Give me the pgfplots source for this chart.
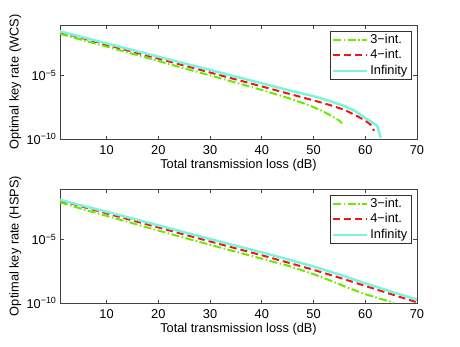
\documentclass[border=0pt]{standalone}
\usepackage{fontspec}
\setmainfont{Liberation Sans}
\usepackage{pgfplots}
\pgfplotsset{compat=1.18}

\definecolor{cthree}{RGB}{105,235,0}
\definecolor{cfour}{RGB}{245,20,20}
\definecolor{cinf}{RGB}{120,245,220}
\newcommand{\fs}{\fontsize{12.8}{15}\selectfont}

\pgfplotsset{
  kr/.style={
    scale only axis, width=357pt, height=114pt,
    xmin=1, xmax=70,
    xtick={10,20,...,70},
    yminorticks=false, xminorticks=false,
    tick align=inside, major tick length=3.5pt,
    axis line style={draw=black!75, line width=0.6pt},
    tick style={black!75, line width=0.6pt},
    tick label style={font=\fs},
    xticklabel style={yshift=-3pt},
    label style={font=\fs},
    xlabel={Total transmission loss (dB)},
    xlabel style={at={(axis description cs:0.5,-0.23)}, anchor=center},
    ylabel style={at={(axis description cs:-0.125,0.5)}, anchor=center},
    legend cell align=left,
    legend style={font=\fs, draw=black!80, line width=0.6pt,
      at={(axis description cs:0.985,0.95)}, anchor=north east,
      inner xsep=2pt, inner ysep=1pt,
      nodes={inner xsep=2pt, inner ysep=1.5pt, text height=9.5pt, text depth=3pt}},
  },
  three/.style={cthree, line width=2pt, dash pattern=on 8pt off 2.5pt on 1.5pt off 2.5pt},
  four/.style={cfour, line width=2pt, dash pattern=on 7pt off 4pt},
  inf/.style={cinf, line width=2.5pt},
}

\begin{document}
\begin{tikzpicture}
\useasboundingbox (0,0) rectangle (460pt,346pt);

% ---- top panel: WCS ----
\begin{axis}[kr, ymode=log, ymin=1e-10, ymax=1e-1,
  ytick={1e-10,1e-5},
  yticklabels={10\textsuperscript{−10},10\textsuperscript{−5}},
  xticklabel={\pgfmathprintnumber[assume math mode=true]{\tick}},
  legend image code/.code={\draw[#1] (0pt,0pt) -- (34pt,0pt);},
  at={(60pt,207pt)}, anchor=south west,
  ylabel={Optimal key rate (WCS)}]
\addplot[three] coordinates {
  (1,2.0e-2)(5,7.08e-3)(10,2.0e-3)(15,5.37e-4)(20,1.45e-4)(25,3.80e-5)
  (30,1.05e-5)(35,2.82e-6)(40,7.41e-7)(45,1.78e-7)(48,6.76e-8)(50,3.31e-8)
  (52,1.41e-8)(54,5.01e-9)(55,2.82e-9)(55.5,1.66e-9)
};
\addlegendentry{3−int.}
\addplot[four] coordinates {
  (1,2.82e-2)(5,1.0e-2)(10,2.82e-3)(15,7.94e-4)(20,2.24e-4)(25,6.31e-5)
  (30,1.78e-5)(35,5.01e-6)(40,1.41e-6)(45,3.98e-7)(50,1.12e-7)(53,5.01e-8)
  (56,2.0e-8)(58,7.94e-9)(60,2.82e-9)(61,1.41e-9)(61.7,4.47e-10)
};
\addlegendentry{4−int.}
\addplot[inf] coordinates {
  (1,3.16e-2)(5,1.17e-2)(10,3.55e-3)(15,1.05e-3)(20,3.16e-4)(25,9.33e-5)
  (30,2.82e-5)(35,8.32e-6)(40,2.51e-6)(45,7.41e-7)(50,2.40e-7)(53,1.05e-7)
  (56,3.98e-8)(58,1.66e-8)(60,4.47e-9)(61,2.51e-9)(62.3,1.12e-9)(63,1.26e-10)
};
\addlegendentry{Infinity}
\end{axis}

% ---- bottom panel: HSPS ----
\begin{axis}[kr, ymode=log, ymin=1e-10, ymax=1e-1,
  ytick={1e-10,1e-5},
  yticklabels={10\textsuperscript{−10},10\textsuperscript{−5}},
  xticklabel={\pgfmathprintnumber[assume math mode=true]{\tick}},
  legend image code/.code={\draw[#1] (0pt,0pt) -- (34pt,0pt);},
  at={(60pt,43pt)}, anchor=south west,
  ylabel={Optimal key rate (HSPS)}]
\addplot[three] coordinates {
  (1,8.91e-3)(5,2.82e-3)(10,7.59e-4)(15,2.0e-4)(20,5.25e-5)(25,1.41e-5)
  (30,3.98e-6)(35,1.12e-6)(40,3.16e-7)(45,8.91e-8)(48,3.55e-8)(50,1.91e-8)
  (54,4.47e-9)(57,1.41e-9)(60,5.01e-10)(63,2.09e-10)(65.5,1.07e-10)
};
\addlegendentry{3−int.}
\addplot[four] coordinates {
  (1,1.26e-2)(5,4.47e-3)(10,1.20e-3)(15,3.31e-4)(20,9.33e-5)(25,2.57e-5)
  (30,7.24e-6)(35,2.04e-6)(40,5.89e-7)(45,1.58e-7)(50,4.17e-8)(55,1.0e-8)
  (60,2.24e-9)(65,5.01e-10)(70,1.12e-10)
};
\addlegendentry{4−int.}
\addplot[inf] coordinates {
  (1,1.41e-2)(5,5.25e-3)(10,1.58e-3)(15,4.68e-4)(20,1.35e-4)(25,3.89e-5)
  (30,1.12e-5)(35,3.31e-6)(40,1.0e-6)(45,2.82e-7)(50,7.59e-8)(55,1.78e-8)
  (60,3.55e-9)(65,7.94e-10)(70,1.82e-10)
};
\addlegendentry{Infinity}
\end{axis}
\end{tikzpicture}
\end{document}
